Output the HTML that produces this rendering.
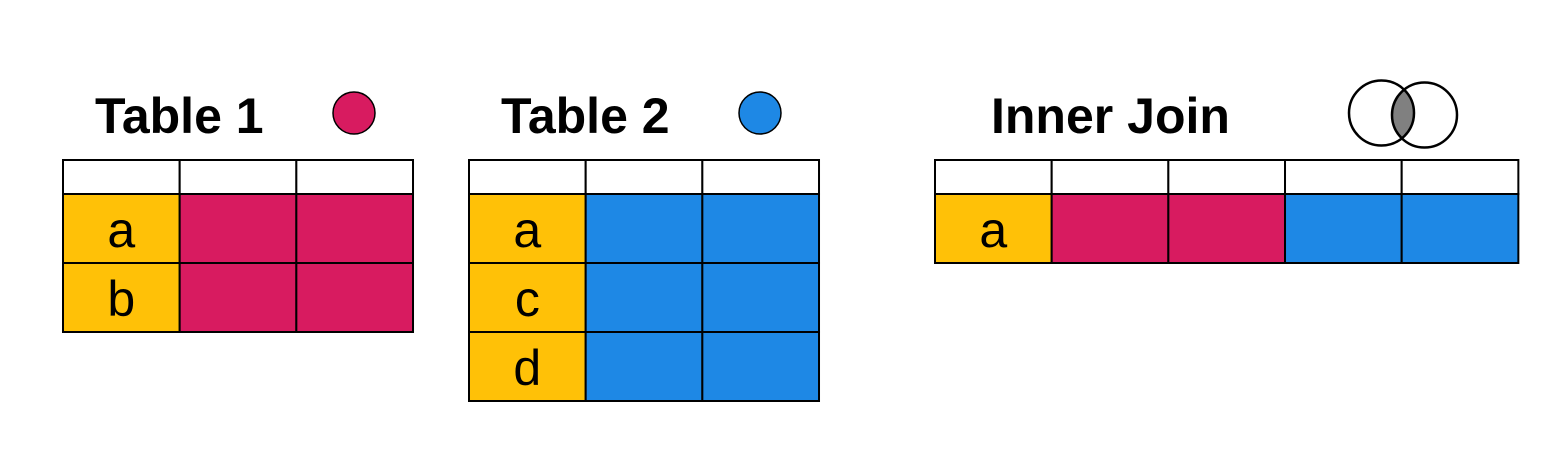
<!DOCTYPE html>
<html><head><meta charset="utf-8"><style>
html,body{margin:0;padding:0;background:#fff;}
svg{display:block;font-family:"Liberation Sans",sans-serif;}
</style></head><body>
<svg id="c" width="1552" height="463" viewBox="0 0 1552 463"></svg>
<script>
const NS="http://www.w3.org/2000/svg";
const svg=document.getElementById('c');
const YEL="#FFC107",PINK="#D81B60",BLUE="#1E88E5";
// table definitions
const t1Keys=["a","b"];
const t2Keys=["a","c","d"];
const joinKeys=["a"];
const colW=116.67, headH=34, rowH=69, topY=160;
function mk(tag,attrs,parent){const e=document.createElementNS(NS,tag);for(const k in attrs)e.setAttribute(k,attrs[k]);(parent||svg).appendChild(e);return e;}
function table(name,x0,keys,colors){
  const g=mk('g',{});
  
  
  const n=colors.length+1;
  for(let c=0;c<n;c++){
    const r=mk('rect',{x:x0+c*colW,y:topY,width:colW,height:headH,fill:'#fff',stroke:'#000','stroke-width':2},g);
    
    
  }
  keys.forEach((k,i)=>{
    const y=topY+headH+i*rowH;
    for(let c=0;c<n;c++){
      const r=mk('rect',{x:x0+c*colW,y:y,width:colW,height:rowH,fill:c==0?YEL:colors[c-1],stroke:'#000','stroke-width':2},g);
      
      
    }
    const t=mk('text',{x:x0+colW/2,y:y+53,'text-anchor':'middle','font-size':50,fill:'#000'},g);
    t.textContent=k;
    
    
  });
}
function title(txt,x,nm){
  const t=mk('text',{x:x,y:133,'font-size':50,'font-weight':'bold',fill:'#000'});
  t.textContent=txt;
  
  
}
title("Table 1",95,'table-1-title');
title("Table 2",501,'table-2-title');
title("Inner Join",991,'inner-join-title');
let c1=mk('circle',{cx:354,cy:113,r:21,fill:PINK,stroke:'#000','stroke-width':1.5});


let c2=mk('circle',{cx:760,cy:113,r:21,fill:BLUE,stroke:'#000','stroke-width':1.5});


// venn
const vg=mk('g',{});


const defs=mk('defs',{},vg);
const cp=mk('clipPath',{id:'cl'},defs);
mk('circle',{cx:1381.5,cy:113,r:32.5},cp);
mk('circle',{cx:1424.5,cy:115,r:32.5,fill:'#808080','clip-path':'url(#cl)'},vg);
mk('circle',{cx:1381.5,cy:113,r:32.5,fill:'none',stroke:'#000','stroke-width':2.5},vg);
mk('circle',{cx:1424.5,cy:115,r:32.5,fill:'none',stroke:'#000','stroke-width':2.5},vg);
table('table-1',63,t1Keys,[PINK,PINK]);
table('table-2',469,t2Keys,[BLUE,BLUE]);
table('inner-join-table',935,joinKeys,[PINK,PINK,BLUE,BLUE]);
</script>
</body></html>
